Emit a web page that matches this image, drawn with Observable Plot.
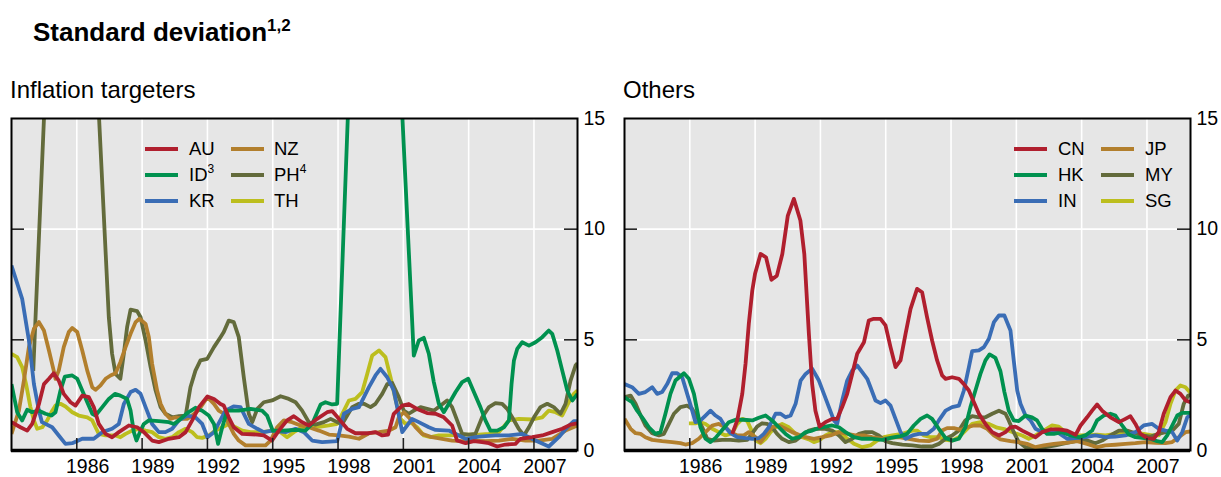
<!DOCTYPE html>
<html>
<head>
<meta charset="utf-8">
<script src="https://cdn.jsdelivr.net/npm/d3@7"></script>
<script src="https://cdn.jsdelivr.net/npm/@observablehq/plot@0.6"></script>
<style>
  body { margin: 0; background: #fff; }
  #page { position: relative; width: 1221px; height: 477px; overflow: hidden;
          font-family: Arial, "Liberation Sans", Helvetica, sans-serif; color: #000; }
  .abs { position: absolute; line-height: 1; white-space: nowrap; }
  .title { font-weight: bold; font-size: 26px; }
  .title sup { font-size: 17px; vertical-align: 10px; line-height: 0; }
  .sub { font-size: 24px; }
  .lg-label { font-size: 18.5px; }
  .lg-label sup { font-size: 12px; vertical-align: 8px; line-height: 0; }
  .lg-swatch { height: 4px; width: 33px; }
</style>
</head>
<body>
<div id="page"></div>
<script>
// Quarterly standard deviation of inflation, [year, value] pairs per economy.

// Inflation targeters
const au = [[1983.0,1.28],[1983.41,1.05],[1983.72,0.9],[1983.95,1.2],[1984.26,2.1],[1984.49,3.0],[1984.72,3.24],[1984.94,3.49],[1985.17,3.16],[1985.4,2.56],[1985.71,2.18],[1985.94,2.03],[1986.25,2.48],[1986.55,2.41],[1986.78,1.96],[1987.01,1.2],[1987.32,0.75],[1987.62,0.6],[1987.93,0.83],[1988.39,1.13],[1988.77,1.05],[1989.08,0.83],[1989.46,0.45],[1989.77,0.38],[1990.23,0.53],[1990.69,0.6],[1991.0,0.83],[1991.3,1.36],[1991.61,1.96],[1992.0,2.44],[1992.3,2.33],[1992.6,2.1],[1992.75,2.03],[1992.98,1.5],[1993.21,1.05],[1993.6,0.75],[1994.29,0.72],[1994.59,0.68],[1994.97,0.45],[1995.28,0.9],[1995.66,1.36],[1995.97,1.55],[1996.35,1.28],[1996.66,1.13],[1997.04,1.43],[1997.5,1.73],[1997.73,1.78],[1998.04,1.43],[1998.42,0.98],[1998.8,0.78],[1999.42,0.78],[1999.72,0.83],[2000.03,0.68],[2000.3,0.72],[2000.56,1.66],[2000.95,2.03],[2001.25,2.1],[2001.63,1.88],[2002.09,1.69],[2002.48,1.66],[2002.86,1.5],[2003.24,1.13],[2003.47,0.45],[2003.86,0.33],[2004.24,0.42],[2004.62,0.38],[2004.93,0.33],[2005.31,0.18],[2005.69,0.27],[2006.15,0.3],[2006.38,0.53],[2006.92,0.6],[2007.38,0.68],[2007.84,0.83],[2008.3,0.98],[2008.68,1.17],[2009.0,1.23]];
const id = [[1983.0,3.0],[1983.26,1.73],[1983.49,1.36],[1983.72,1.84],[1983.95,1.73],[1984.26,1.8],[1984.56,1.66],[1984.84,1.58],[1985.02,1.73],[1985.25,2.71],[1985.45,3.34],[1985.79,3.39],[1986.02,3.24],[1986.25,2.71],[1986.48,2.18],[1986.71,1.66],[1986.86,1.58],[1987.17,1.96],[1987.47,2.33],[1987.75,2.56],[1988.0,2.48],[1988.31,2.33],[1988.47,1.8],[1988.62,0.83],[1988.74,0.45],[1988.9,0.83],[1989.08,1.2],[1989.31,1.36],[1989.77,1.33],[1990.23,1.28],[1990.46,1.2],[1990.69,1.36],[1991.07,1.69],[1991.45,1.93],[1991.76,1.8],[1992.06,1.58],[1992.3,1.2],[1992.49,0.3],[1992.68,1.05],[1992.91,1.8],[1993.44,1.8],[1993.98,1.88],[1994.51,1.8],[1994.74,1.58],[1995.0,0.9],[1995.43,0.9],[1996.05,0.93],[1996.5,0.9],[1996.81,1.2],[1997.2,2.08],[1997.42,2.18],[1997.73,2.08],[1997.96,2.11],[1998.75,23],[1999.25,26],[1999.75,25],[2000.25,22],[2000.75,19.3],[2001.48,4.29],[2001.71,4.97],[2001.94,5.09],[2002.17,4.37],[2002.4,3.09],[2002.63,2.11],[2002.86,1.73],[2003.09,2.11],[2003.4,2.64],[2003.7,3.09],[2003.98,3.24],[2004.24,2.64],[2004.54,1.96],[2004.77,1.36],[2005.0,0.9],[2005.31,0.9],[2005.62,1.05],[2005.85,1.36],[2005.97,3.0],[2006.08,4.07],[2006.23,4.59],[2006.46,4.89],[2006.77,4.74],[2007.07,4.89],[2007.38,5.12],[2007.68,5.42],[2007.84,5.27],[2008.07,4.52],[2008.3,3.61],[2008.53,2.71],[2008.76,2.26],[2009.0,2.56]];
const kr = [[1983.0,8.36],[1983.49,6.85],[1983.8,4.97],[1984.03,3.0],[1984.26,1.8],[1984.4,1.28],[1984.87,1.05],[1985.17,0.68],[1985.48,0.3],[1985.79,0.33],[1986.25,0.53],[1986.78,0.53],[1987.17,0.83],[1987.62,0.98],[1987.93,1.2],[1988.16,2.1],[1988.47,2.64],[1988.7,2.74],[1988.93,2.56],[1989.16,1.96],[1989.46,1.2],[1989.77,0.83],[1990.07,0.83],[1990.38,0.98],[1990.69,1.36],[1991.07,1.58],[1991.45,1.5],[1991.76,1.2],[1992.0,0.6],[1992.3,0.83],[1992.83,1.8],[1993.2,1.99],[1993.52,1.96],[1993.9,1.2],[1994.29,0.98],[1994.59,0.83],[1994.97,0.9],[1995.59,0.83],[1996.05,0.98],[1996.43,0.83],[1996.81,0.45],[1997.27,0.38],[1997.96,0.42],[1998.27,1.66],[1998.65,1.88],[1998.96,1.96],[1999.42,2.86],[1999.72,3.39],[1999.95,3.69],[2000.26,3.31],[2000.56,2.71],[2000.95,0.83],[2001.4,1.43],[2001.71,1.28],[2002.17,1.05],[2002.48,0.93],[2003.09,0.9],[2003.55,0.68],[2003.86,0.53],[2004.47,0.63],[2005.23,0.68],[2005.85,0.68],[2006.46,0.75],[2007.07,0.45],[2007.68,0.18],[2008.14,0.6],[2008.53,1.05],[2008.83,1.33],[2009.0,1.33]];
const nz = [[1983.0,0.75],[1983.34,1.8],[1983.57,3.16],[1983.8,4.67],[1984.03,5.5],[1984.26,5.8],[1984.49,5.42],[1984.72,4.52],[1984.94,3.61],[1985.02,3.24],[1985.17,3.61],[1985.4,4.67],[1985.63,5.35],[1985.79,5.53],[1986.02,5.35],[1986.25,4.52],[1986.48,3.61],[1986.71,2.86],[1986.86,2.74],[1987.09,2.94],[1987.32,3.24],[1987.55,3.39],[1987.78,3.49],[1988.0,3.99],[1988.24,4.67],[1988.47,5.27],[1988.7,5.8],[1988.88,5.95],[1989.16,5.72],[1989.31,5.12],[1989.46,3.92],[1989.69,2.71],[1989.85,2.11],[1990.07,1.66],[1990.3,1.43],[1990.54,1.5],[1990.84,1.43],[1991.07,1.43],[1991.3,1.58],[1991.61,1.84],[1992.0,2.41],[1992.3,2.11],[1992.52,1.8],[1992.75,1.66],[1992.98,1.2],[1993.21,0.75],[1993.44,0.45],[1993.75,0.23],[1994.29,0.23],[1994.67,0.23],[1994.9,0.45],[1995.2,1.05],[1995.51,1.36],[1995.89,1.28],[1996.28,1.13],[1996.66,1.05],[1997.12,0.9],[1997.58,0.72],[1998.04,0.68],[1998.5,0.63],[1998.96,0.53],[1999.42,0.78],[1999.88,0.83],[2000.34,0.9],[2000.64,1.05],[2000.79,1.5],[2001.02,1.73],[2001.25,1.5],[2001.56,1.05],[2001.86,0.75],[2002.32,0.6],[2002.78,0.53],[2003.24,0.45],[2003.7,0.42],[2004.16,0.45],[2004.77,0.42],[2005.39,0.45],[2006.0,0.53],[2006.61,0.45],[2007.22,0.45],[2007.84,0.53],[2008.45,0.9],[2009.0,1.13]];
const ph = [[1984.0,3.6],[1984.75,21],[1985.25,25],[1985.75,26],[1986.25,24],[1986.75,20.5],[1987.47,6.02],[1987.62,4.37],[1987.78,3.46],[1987.93,3.31],[1988.0,3.24],[1988.16,4.37],[1988.31,5.57],[1988.47,6.36],[1988.77,6.3],[1988.93,6.02],[1989.16,4.97],[1989.39,3.77],[1989.62,2.71],[1989.85,1.96],[1990.07,1.66],[1990.38,1.5],[1990.69,1.55],[1991.0,1.58],[1991.22,2.86],[1991.45,3.61],[1991.68,4.07],[1991.99,4.14],[1992.3,4.67],[1992.6,5.12],[1992.75,5.35],[1992.98,5.87],[1993.21,5.8],[1993.44,5.12],[1993.67,3.31],[1993.9,1.66],[1994.06,1.28],[1994.29,1.88],[1994.59,2.18],[1994.97,2.26],[1995.36,2.45],[1995.74,2.33],[1996.05,2.18],[1996.35,1.8],[1996.66,1.28],[1996.96,1.17],[1997.35,1.28],[1997.66,1.43],[1997.96,1.28],[1998.19,1.2],[1998.42,1.58],[1998.65,1.96],[1998.96,2.11],[1999.19,2.11],[1999.49,1.96],[1999.72,2.11],[2000.03,2.56],[2000.26,3.0],[2000.49,3.05],[2000.79,2.41],[2001.02,1.8],[2001.25,1.66],[2001.48,1.8],[2001.79,1.96],[2002.09,1.88],[2002.4,1.8],[2002.71,2.03],[2003.01,2.26],[2003.24,1.96],[2003.47,1.36],[2003.7,0.75],[2004.01,0.72],[2004.31,0.75],[2004.62,1.5],[2004.93,1.96],[2005.23,2.14],[2005.54,2.11],[2005.77,1.88],[2006.0,1.5],[2006.3,0.98],[2006.54,0.68],[2006.77,1.05],[2007.0,1.5],[2007.3,1.96],[2007.61,2.11],[2007.91,1.96],[2008.22,1.66],[2008.45,2.11],[2008.68,3.16],[2008.91,3.84],[2009.0,3.95]];
const th = [[1983.0,4.37],[1983.26,4.22],[1983.49,3.77],[1983.67,3.0],[1983.87,1.96],[1984.03,1.36],[1984.18,0.98],[1984.41,1.05],[1984.64,1.36],[1984.87,1.8],[1985.02,2.03],[1985.25,2.11],[1985.48,1.99],[1985.79,1.73],[1986.09,1.58],[1986.48,1.5],[1986.71,1.36],[1986.86,1.05],[1987.01,0.75],[1987.32,0.68],[1987.78,0.68],[1988.0,0.6],[1988.24,0.75],[1988.54,0.9],[1988.85,0.98],[1989.16,0.9],[1989.46,0.83],[1989.77,0.6],[1990.07,0.53],[1990.38,0.6],[1990.69,0.83],[1991.0,0.98],[1991.3,0.83],[1991.53,0.6],[1991.76,0.57],[1992.06,0.68],[1992.37,0.9],[1992.68,1.05],[1992.98,1.2],[1993.29,1.05],[1993.6,0.9],[1993.98,0.83],[1994.51,0.83],[1994.97,0.9],[1995.36,0.83],[1995.66,0.6],[1995.97,0.83],[1996.35,1.05],[1996.74,1.08],[1997.2,1.08],[1997.58,1.13],[1997.96,1.2],[1998.27,1.8],[1998.5,2.26],[1998.8,2.33],[1999.11,2.64],[1999.34,3.46],[1999.57,4.29],[1999.88,4.52],[2000.18,4.22],[2000.41,3.31],[2000.64,2.3],[2000.87,1.43],[2001.1,1.2],[2001.33,1.28],[2001.63,1.05],[2001.94,0.68],[2002.25,0.6],[2002.63,0.68],[2003.09,0.68],[2003.55,0.71],[2004.01,0.72],[2004.47,0.72],[2004.93,0.75],[2005.39,0.83],[2005.85,1.36],[2006.3,1.43],[2006.92,1.4],[2007.38,1.5],[2007.68,1.8],[2007.99,1.73],[2008.3,1.58],[2008.6,2.18],[2008.83,2.56],[2009.0,2.71]];

// Others
const cn = [[1987.95,0.75],[1988.18,1.36],[1988.41,2.56],[1988.56,3.92],[1988.71,5.72],[1988.87,7.23],[1989.0,8.0],[1989.25,8.88],[1989.5,8.73],[1989.75,7.71],[1990.0,7.9],[1990.25,8.88],[1990.5,10.6],[1990.78,11.37],[1991.08,10.39],[1991.26,8.88],[1991.47,5.27],[1991.62,3.0],[1991.77,1.8],[1991.96,1.08],[1992.23,1.28],[1992.54,1.43],[1992.77,1.43],[1993.0,1.96],[1993.23,2.56],[1993.46,3.46],[1993.69,4.37],[1994.0,4.89],[1994.22,5.87],[1994.45,5.95],[1994.76,5.95],[1994.99,5.65],[1995.22,4.67],[1995.45,3.77],[1995.68,4.07],[1995.91,5.27],[1996.14,6.4],[1996.44,7.3],[1996.67,7.15],[1996.9,6.02],[1997.13,4.97],[1997.36,4.07],[1997.59,3.39],[1997.75,3.24],[1998.05,3.31],[1998.36,3.24],[1998.59,3.0],[1998.82,2.71],[1999.05,2.18],[1999.28,1.66],[1999.58,1.2],[1999.89,0.83],[2000.2,0.68],[2000.5,0.83],[2000.73,1.05],[2000.96,1.08],[2001.27,0.9],[2001.57,0.75],[2001.88,0.6],[2002.18,0.83],[2002.57,0.95],[2002.95,0.95],[2003.33,0.9],[2003.72,0.71],[2003.95,1.13],[2004.25,1.5],[2004.48,1.8],[2004.71,2.08],[2004.94,1.8],[2005.32,1.5],[2005.71,1.28],[2006.01,1.43],[2006.24,1.55],[2006.47,1.2],[2006.7,0.75],[2007.01,0.56],[2007.31,0.53],[2007.54,0.83],[2007.77,1.66],[2008.08,2.41],[2008.31,2.71],[2008.54,2.56],[2008.77,2.26],[2009.0,2.18]];
const hk = [[1983.0,2.4],[1983.35,2.18],[1983.58,1.8],[1983.81,1.5],[1984.12,1.05],[1984.42,0.75],[1984.65,0.83],[1984.88,1.66],[1985.11,2.56],[1985.34,3.16],[1985.73,3.49],[1985.96,3.24],[1986.19,2.56],[1986.34,1.8],[1986.49,1.05],[1986.72,0.53],[1986.95,0.38],[1987.18,0.57],[1987.49,0.93],[1987.79,1.28],[1988.1,1.39],[1988.48,1.39],[1988.87,1.36],[1989.17,1.48],[1989.48,1.58],[1989.78,1.36],[1990.09,1.05],[1990.4,0.75],[1990.7,0.53],[1991.01,0.6],[1991.32,0.83],[1991.62,0.9],[1991.93,1.02],[1992.23,1.08],[1992.54,1.13],[1992.85,1.05],[1993.15,0.83],[1993.54,0.6],[1993.92,0.53],[1994.38,0.53],[1994.84,0.48],[1995.22,0.57],[1995.68,0.65],[1995.98,0.75],[1996.29,1.13],[1996.6,1.43],[1996.9,1.58],[1997.13,1.43],[1997.44,0.98],[1997.75,0.56],[1998.05,0.45],[1998.36,0.53],[1998.66,1.05],[1998.89,1.96],[1999.12,2.71],[1999.35,3.46],[1999.58,4.07],[1999.77,4.34],[2000.04,4.18],[2000.27,3.58],[2000.45,2.65],[2000.65,1.8],[2000.88,1.36],[2001.11,1.33],[2001.42,1.58],[2001.72,1.5],[2001.95,1.36],[2002.18,0.98],[2002.41,0.75],[2002.72,0.75],[2003.1,0.83],[2003.49,0.68],[2003.87,0.6],[2004.17,0.68],[2004.48,0.9],[2004.71,1.36],[2005.02,1.58],[2005.32,1.66],[2005.55,1.58],[2005.86,1.13],[2006.17,0.72],[2006.47,0.6],[2006.78,0.57],[2007.16,0.53],[2007.47,0.42],[2007.7,0.38],[2007.93,0.68],[2008.16,1.13],[2008.39,1.58],[2008.62,1.7],[2009.0,1.7]];
const inn = [[1983.0,3.0],[1983.35,2.86],[1983.66,2.56],[1983.96,2.64],[1984.27,2.86],[1984.5,2.56],[1984.73,2.64],[1984.96,3.0],[1985.19,3.49],[1985.42,3.49],[1985.65,3.31],[1985.88,2.56],[1986.11,1.8],[1986.26,1.28],[1986.49,1.36],[1986.72,1.58],[1986.95,1.8],[1987.18,1.58],[1987.41,1.43],[1987.64,1.05],[1987.87,0.78],[1988.18,0.6],[1988.56,0.56],[1988.87,0.53],[1989.17,0.56],[1989.4,0.75],[1989.63,1.05],[1989.94,1.66],[1990.17,1.66],[1990.4,1.5],[1990.63,1.58],[1990.86,2.11],[1991.09,3.16],[1991.32,3.46],[1991.62,3.7],[1991.93,3.16],[1992.16,2.56],[1992.39,1.96],[1992.62,1.36],[1992.77,1.2],[1993.0,2.26],[1993.23,3.16],[1993.46,3.61],[1993.69,3.84],[1993.92,3.54],[1994.15,3.24],[1994.3,2.86],[1994.53,2.26],[1994.76,2.14],[1994.99,2.26],[1995.22,2.03],[1995.45,1.43],[1995.68,0.83],[1995.91,0.53],[1996.22,0.68],[1996.52,0.75],[1996.9,0.75],[1997.21,0.98],[1997.44,1.36],[1997.75,1.8],[1998.05,1.96],[1998.36,2.03],[1998.59,2.71],[1998.82,3.77],[1998.97,4.49],[1999.28,4.52],[1999.51,4.67],[1999.74,5.05],[1999.97,5.8],[2000.2,6.1],[2000.45,6.1],[2000.73,5.42],[2000.88,4.07],[2001.04,2.71],[2001.19,2.11],[2001.42,1.58],[2001.65,1.36],[2001.88,0.98],[2002.18,0.83],[2002.57,0.83],[2002.95,0.78],[2003.33,0.53],[2003.72,0.56],[2004.17,0.6],[2004.63,0.68],[2005.09,0.6],[2005.55,0.63],[2006.01,0.68],[2006.47,0.83],[2006.85,1.13],[2007.24,1.2],[2007.54,0.98],[2007.85,0.9],[2008.16,0.83],[2008.39,0.45],[2008.62,0.83],[2008.85,1.5],[2009.0,1.6]];
const jp = [[1983.0,1.43],[1983.28,0.98],[1983.51,0.78],[1983.74,0.75],[1983.96,0.6],[1984.27,0.48],[1984.73,0.42],[1985.19,0.38],[1985.57,0.33],[1985.8,0.27],[1986.11,0.33],[1986.41,0.53],[1986.72,0.83],[1987.03,1.13],[1987.33,1.2],[1987.64,1.05],[1987.87,0.83],[1988.18,0.68],[1988.48,0.68],[1988.71,0.83],[1989.02,0.6],[1989.25,0.38],[1989.48,0.68],[1989.78,1.05],[1990.09,1.13],[1990.4,0.98],[1990.7,0.83],[1991.01,0.71],[1991.32,0.6],[1991.7,0.53],[1992.08,0.6],[1992.46,0.68],[1992.85,0.83],[1993.23,0.75],[1993.61,0.68],[1993.99,0.68],[1994.38,0.6],[1994.84,0.53],[1995.22,0.57],[1995.6,0.6],[1996.06,0.53],[1996.52,0.45],[1996.98,0.42],[1997.36,0.53],[1997.59,0.9],[1997.82,1.01],[1998.13,1.01],[1998.44,0.93],[1998.74,1.05],[1999.05,1.13],[1999.35,1.13],[1999.66,0.98],[1999.97,0.68],[2000.27,0.5],[2000.73,0.42],[2001.11,0.38],[2001.49,0.3],[2001.88,0.15],[2002.26,0.23],[2002.72,0.3],[2003.26,0.35],[2003.79,0.42],[2004.25,0.3],[2004.71,0.15],[2005.09,0.23],[2005.55,0.26],[2006.01,0.3],[2006.47,0.33],[2006.93,0.38],[2007.39,0.35],[2007.85,0.33],[2008.16,0.38],[2008.46,0.6],[2008.77,0.83],[2009.0,0.86]];
const my = [[1983.0,2.41],[1983.28,2.48],[1983.51,2.11],[1983.74,1.58],[1983.96,1.13],[1984.27,0.78],[1984.58,0.68],[1984.81,0.75],[1985.04,1.2],[1985.27,1.66],[1985.57,1.96],[1985.88,2.03],[1986.11,1.88],[1986.34,1.5],[1986.57,1.05],[1986.8,0.53],[1987.1,0.45],[1987.49,0.48],[1987.87,0.48],[1988.25,0.45],[1988.64,0.48],[1988.87,0.78],[1989.09,1.08],[1989.32,1.23],[1989.55,1.2],[1989.78,1.05],[1990.01,0.75],[1990.24,0.53],[1990.55,0.38],[1990.86,0.45],[1991.16,0.68],[1991.47,0.9],[1991.77,0.98],[1992.23,0.98],[1992.54,0.9],[1992.85,0.68],[1993.15,0.38],[1993.46,0.53],[1993.77,0.75],[1994.07,0.83],[1994.38,0.83],[1994.68,0.68],[1994.99,0.42],[1995.3,0.33],[1995.76,0.27],[1996.22,0.23],[1996.67,0.18],[1997.13,0.18],[1997.44,0.3],[1997.75,0.53],[1998.05,0.68],[1998.36,0.9],[1998.66,1.36],[1998.97,1.55],[1999.28,1.5],[1999.58,1.5],[1999.89,1.66],[2000.2,1.8],[2000.5,1.66],[2000.65,1.36],[2000.88,0.83],[2001.11,0.38],[2001.42,0.15],[2001.88,0.1],[2002.34,0.15],[2002.8,0.23],[2003.26,0.33],[2003.72,0.42],[2004.17,0.48],[2004.63,0.33],[2004.94,0.45],[2005.32,0.68],[2005.71,0.9],[2006.09,0.9],[2006.47,0.78],[2006.78,0.68],[2007.16,0.63],[2007.54,0.75],[2007.85,0.83],[2008.16,0.9],[2008.46,1.2],[2008.69,2.11],[2008.89,2.48],[2009.0,2.5]];
const sg = [[1985.96,1.23],[1986.26,1.23],[1986.49,1.28],[1986.72,1.2],[1987.03,0.98],[1987.33,0.83],[1987.64,0.68],[1987.95,0.78],[1988.18,1.2],[1988.41,1.43],[1988.64,1.33],[1988.87,0.83],[1989.02,0.45],[1989.25,0.33],[1989.48,0.53],[1989.71,0.83],[1989.94,1.05],[1990.24,1.2],[1990.55,1.05],[1990.86,0.75],[1991.16,0.6],[1991.47,0.5],[1991.7,0.38],[1991.93,0.45],[1992.23,0.68],[1992.54,0.83],[1992.85,0.83],[1993.15,0.6],[1993.54,0.3],[1993.92,0.15],[1994.3,0.23],[1994.61,0.45],[1994.91,0.6],[1995.3,0.68],[1995.76,0.75],[1996.22,0.9],[1996.44,0.9],[1996.75,0.68],[1997.06,0.6],[1997.44,0.6],[1997.75,0.48],[1998.05,0.45],[1998.36,0.6],[1998.66,0.9],[1998.97,1.2],[1999.35,1.28],[1999.74,1.2],[2000.12,1.03],[2000.5,0.95],[2000.96,0.78],[2001.27,0.68],[2001.57,0.53],[2001.88,0.68],[2002.26,0.9],[2002.64,1.13],[2002.95,1.08],[2003.26,0.83],[2003.56,0.68],[2003.95,0.68],[2004.33,0.71],[2004.71,0.72],[2005.09,0.68],[2005.55,0.75],[2006.01,0.83],[2006.47,0.78],[2006.85,0.75],[2007.24,0.68],[2007.54,0.68],[2007.85,1.28],[2008.08,2.11],[2008.31,2.71],[2008.54,2.94],[2008.77,2.86],[2009.0,2.6]];

// Legend names (with footnote markers) and colours, in legend order
const leftNames = ["AU", "ID", "KR", "NZ", "PH", "TH"];
const leftNotes = ["", "3", "", "", "4", ""];
const rightNames = ["CN", "HK", "IN", "JP", "MY", "SG"];
const rightNotes = ["", "", "", "", "", ""];
const palette = ["#b01f2e", "#00914f", "#3a6db5", "#b27f2d", "#636b3b", "#bcbe1e"];

// Axis ticks
const gridYears = [1986, 1989, 1992, 1995, 1998, 2001, 2004, 2007];
const xTickLabels = ["1986", "1989", "1992", "1995", "1998", "2001", "2004", "2007"];
const yTicks = [0, 5, 10, 15];
const yTickLabels = ["0", "5", "10", "15"];

const FONT = 'Arial, "Liberation Sans", Helvetica, sans-serif';
const page = document.getElementById("page");

function addText(html, cls, left, top) {
  const el = document.createElement("div");
  el.className = "abs " + cls;
  el.style.left = left + "px";
  el.style.top = top + "px";
  el.innerHTML = html;
  page.appendChild(el);
  return el;
}

function panel(series, names, left, width, marginRight) {
  const rows = [];
  // later entries are drawn on top; first legend entry ends up uppermost
  series.slice().reverse().forEach((s, j) => {
    const k = names[series.length - 1 - j];
    s.forEach(([t, v]) => rows.push({t, v, k}));
  });
  const labelAt = new Map(gridYears.map((y, i) => [y + 0.5, xTickLabels[i]]));
  const yLabelAt = new Map(yTicks.map((y, i) => [y, yTickLabels[i]]));
  const innerW = width - 11 - marginRight;
  const innerH = 369 - 10 - 27;
  const chart = Plot.plot({
    width, height: 369,
    marginLeft: 11, marginRight, marginTop: 10, marginBottom: 27,
    style: {fontFamily: FONT, fontSize: "19.5px", color: "#000", background: "transparent", overflow: "visible"},
    x: {domain: [1983, 2009], label: null},
    y: {domain: [0, 15], label: null},
    color: {domain: names, range: palette},
    marks: [
      Plot.frame({fill: "#e6e6e6", stroke: null}),
      Plot.gridX(gridYears, {stroke: "#fff", strokeOpacity: 1, strokeWidth: 1.6}),
      Plot.gridY([5, 10], {stroke: "#fff", strokeOpacity: 1, strokeWidth: 1.6}),
      Plot.line(rows, {x: "t", y: "v", z: "k", stroke: "k", strokeWidth: 3.8,
        strokeLinejoin: "round", strokeLinecap: "butt", clip: true}),
      // short inward ticks on both sides and along the bottom
      Plot.tickY([5, 10], {stroke: "#222", strokeWidth: 1.6, insetRight: innerW - 13}),
      Plot.tickY([5, 10], {stroke: "#222", strokeWidth: 1.6, insetLeft: innerW - 13}),
      Plot.tickX(gridYears, {stroke: "#222", strokeWidth: 1.6, insetTop: innerH - 12}),
      Plot.frame({stroke: "#000", strokeWidth: 2}),
      Plot.ruleY([0], {stroke: "#000", strokeWidth: 3.5}),
      Plot.axisX(gridYears.map(y => y + 0.5), {tickSize: 0, tickPadding: 9, label: null,
        tickFormat: d => labelAt.get(d), fill: "#000"}),
      Plot.axisY(yTicks, {anchor: "right", tickSize: 0, tickPadding: 6, label: null,
        tickFormat: d => yLabelAt.get(d), fill: "#000"})
    ]
  });
  chart.style.position = "absolute";
  chart.style.left = left + "px";
  chart.style.top = "108px";
  page.appendChild(chart);
}

function legend(names, notes, swatchX, labelX) {
  const rowY = [149, 175, 201];
  const F = 18.5;
  names.forEach((n, i) => {
    const col = Math.floor(i / 3), row = i % 3;
    const sw = document.createElement("div");
    sw.className = "abs lg-swatch";
    sw.style.left = swatchX[col] + "px";
    sw.style.top = (rowY[row] - 2) + "px";
    sw.style.background = palette[i];
    page.appendChild(sw);
    const note = notes[i] ? `<sup>${notes[i]}</sup>` : "";
    addText(n + note, "lg-label", labelX[col], rowY[row] - 0.4885 * F);
  });
}

addText("Standard deviation<sup>1,2</sup>", "title", 33, 41 - 0.8465 * 26);
addText("Inflation targeters", "sub", 10, 98 - 0.8465 * 24);
addText("Others", "sub", 623, 98 - 0.8465 * 24);

panel([au, id, kr, nz, ph, th], leftNames, 0, 610, 33);
panel([cn, hk, inn, jp, my, sg], rightNames, 613, 608, 31);

legend(leftNames, leftNotes, [145, 230.5], [189, 274]);
legend(rightNames, rightNotes, [1014, 1101], [1058, 1145]);
</script>
</body>
</html>
